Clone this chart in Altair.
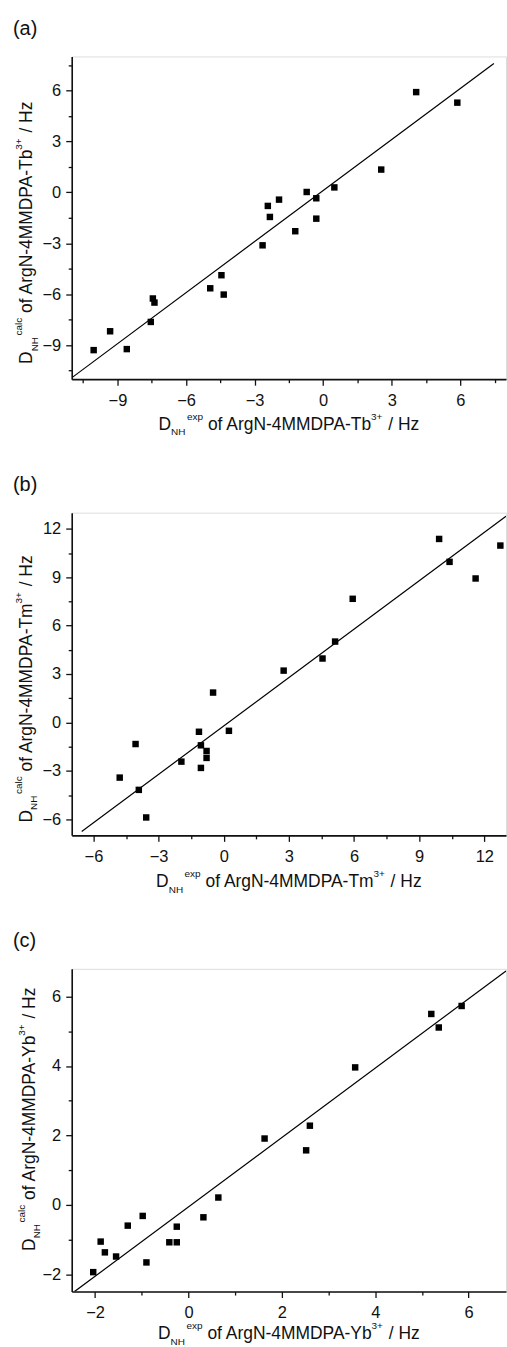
import altair as alt
import pandas as pd

# ---------------- data ----------------
# (a) Tb3+
a_exp = [-10.04, -9.32, -8.59, -7.54, -7.45, -7.38, -4.94, -4.45, -4.35, -2.65, -2.42,
         -2.33, -1.93, -1.22, -0.72, -0.30, -0.30, 0.49, 2.54, 4.07, 5.87]
a_calc = [-9.29, -8.18, -9.23, -7.63, -6.25, -6.49, -5.65, -4.88, -6.02, -3.12, -0.80,
          -1.45, -0.43, -2.29, 0.02, -0.35, -1.55, 0.29, 1.34, 5.90, 5.28]
a_fit_x = [-10.96, 7.47]
a_fit_y = [-10.88, 7.59]
a_major = [-9, -6, -3, 0, 3, 6]
a_minor = [-10.5, -7.5, -4.5, -1.5, 1.5, 4.5, 7.5]
a_domain = [-11, 8]

# (b) Tm3+
b_exp = [-4.79, -4.06, -3.91, -3.57, -1.95, -1.14, -1.05, -1.05, -0.79, -0.79,
         -0.49, 0.24, 2.76, 4.55, 5.13, 5.94, 9.92, 10.40, 11.60, 12.74]
b_calc = [-3.42, -1.34, -4.18, -5.89, -2.43, -0.58, -1.42, -2.82, -1.77, -2.20,
          1.85, -0.52, 3.21, 3.96, 5.01, 7.66, 11.37, 9.95, 8.92, 10.96]
b_fit_x = [-6.54, 13.0]
b_fit_y = [-6.76, 12.78]
b_major = [-6, -3, 0, 3, 6, 9, 12]
b_minor = [-4.5, -1.5, 1.5, 4.5, 7.5, 10.5]
b_domain = [-7, 13]

# (c) Yb3+
c_exp = [-2.04, -1.88, -1.79, -1.55, -1.30, -0.98, -0.90, -0.41, -0.25, -0.25,
         0.32, 0.64, 1.63, 2.52, 2.60, 3.57, 5.20, 5.36, 5.85]
c_calc = [-1.94, -1.06, -1.37, -1.49, -0.60, -0.32, -1.66, -1.08, -1.08, -0.63,
          -0.36, 0.21, 1.91, 1.57, 2.28, 3.96, 5.50, 5.11, 5.73]
c_fit_x = [-2.44, 6.8]
c_fit_y = [-2.5, 6.74]
c_major = [-2, 0, 2, 4, 6]
c_minor = [-1, 1, 3, 5]
c_domain = [-2.5, 6.8]

# ---------------- styling ----------------
FONT = "Liberation Sans"
INK = "#111111"
W, H = 436, 324
F_MAIN = 17.5
F_SMALL = 10
F_TICK = 16.5
SUP = -10
SUB = 5.5

# Arial / Liberation Sans advance widths (1/1000 em) for the glyphs used
ADV = {' ': 278, '+': 584, '-': 333, '/': 278, '3': 556, '4': 556, 'A': 667,
       'D': 722, 'H': 722, 'M': 833, 'N': 722, 'P': 667, 'T': 611, 'Y': 667, 'a': 556,
       'b': 556, 'c': 500, 'e': 556, 'f': 278, 'g': 556, 'l': 222, 'm': 833, 'o': 556,
       'p': 556, 'r': 333, 'x': 500, 'z': 500}


def tw(s, fs):
    return sum(ADV.get(ch, 556) for ch in s) / 1000.0 * fs


ONE = pd.DataFrame({"k": [0]})


def text_piece(s, fs, px, py, angle=0):
    kw = dict(text=s, fontSize=fs, font=FONT, color=INK, align="left", baseline="alphabetic")
    if angle:
        kw["angle"] = angle
    return alt.Chart(ONE).mark_text(**kw).encode(x=alt.value(px), y=alt.value(py))


def title_pieces(sup_word, ion):
    # (string, size, baseline shift [+ = below baseline], gap before)
    sp = tw(" ", F_MAIN)
    return [("D", F_MAIN, 0, 0), ("NH", F_SMALL, SUB, 0), (sup_word, F_SMALL, SUP, 1.5),
            ("of ArgN-4MMDPA-" + ion, F_MAIN, 0, sp), ("3+", F_SMALL, SUP, -2.5),
            ("/ Hz", F_MAIN, 0, sp + 1)]


def x_title(ion, center, base):
    pcs = title_pieces("exp", ion)
    L = sum(tw(s, fs) + g for s, fs, d, g in pcs)
    cur = center - L / 2
    out = []
    for s, fs, d, g in pcs:
        cur += g
        out.append(text_piece(s, fs, cur, base + d))
        cur += tw(s, fs)
    return out


def y_title(ion, center, bx):
    pcs = title_pieces("calc", ion)
    L = sum(tw(s, fs) + g for s, fs, d, g in pcs)
    cur = center + L / 2
    out = []
    for s, fs, d, g in pcs:
        cur -= g
        out.append(text_piece(s, fs, bx + d, cur, angle=270))
        cur -= tw(s, fs)
    return out


def panel(exp, calc, fx, fy, dom, major, minor, ion, label, yc, ybx, xoff):
    pts = pd.DataFrame({"exp": exp, "calc": calc})
    fit = pd.DataFrame({"exp": fx, "calc": fy})
    sx = alt.Scale(domain=dom, nice=False, zero=False)
    sy = alt.Scale(domain=dom, nice=False, zero=False)
    common = dict(values=major, tickSize=6, tickWidth=1.3, tickColor=INK, domainColor=INK,
                  domainWidth=1.6, labelFontSize=F_TICK, labelColor=INK, labelFont=FONT,
                  grid=False, title=None, labelFlush=False, labelOverlap=False)
    minor_ax = dict(values=minor, tickSize=3.5, tickWidth=1.3, tickColor=INK, labels=False,
                    domain=False, grid=False, title=None)
    fit_layer = alt.Chart(fit).mark_line(color="black", strokeWidth=1.2, clip=True).encode(
        x=alt.X("exp:Q", scale=sx, axis=None),
        y=alt.Y("calc:Q", scale=sy, axis=None))
    minor_layer = alt.Chart(pts).mark_square(size=1, opacity=0).encode(
        x=alt.X("exp:Q", scale=sx, axis=alt.Axis(orient="bottom", **minor_ax)),
        y=alt.Y("calc:Q", scale=sy, axis=alt.Axis(orient="left", **minor_ax)))
    pts_layer = alt.Chart(pts).mark_square(size=42, color="black", opacity=1).encode(
        x=alt.X("exp:Q", scale=sx, axis=alt.Axis(orient="bottom", labelPadding=7.5, **common)),
        y=alt.Y("calc:Q", scale=sy, axis=alt.Axis(orient="left", labelPadding=5, **common)))
    texts = x_title(ion, W / 2, H + xoff) + y_title(ion, yc, ybx)
    texts.append(text_piece(label, 20, -59, -21.5))
    return alt.layer(fit_layer, minor_layer, pts_layer, *texts).resolve_axis(
        x="independent", y="independent").properties(width=W, height=H)


pa = panel(a_exp, a_calc, a_fit_x, a_fit_y, a_domain, a_major, a_minor, "Tb", "(a)", 177, -39.5, 51)
pb = panel(b_exp, b_calc, b_fit_x, b_fit_y, b_domain, b_major, b_minor, "Tm", "(b)", 177, -40, 52)
pc = panel(c_exp, c_calc, c_fit_x, c_fit_y, c_domain, c_major, c_minor, "Yb", "(c)", 151, -37, 48)

chart = alt.vconcat(pa, pb, pc, spacing=134, bounds="flush").properties(
    padding={"left": 12, "top": 16, "right": 0, "bottom": 0}
).configure_view(stroke=None).configure(font=FONT, background="white")

chart.save("out.html", embed_options={"renderer": "svg", "actions": False})
